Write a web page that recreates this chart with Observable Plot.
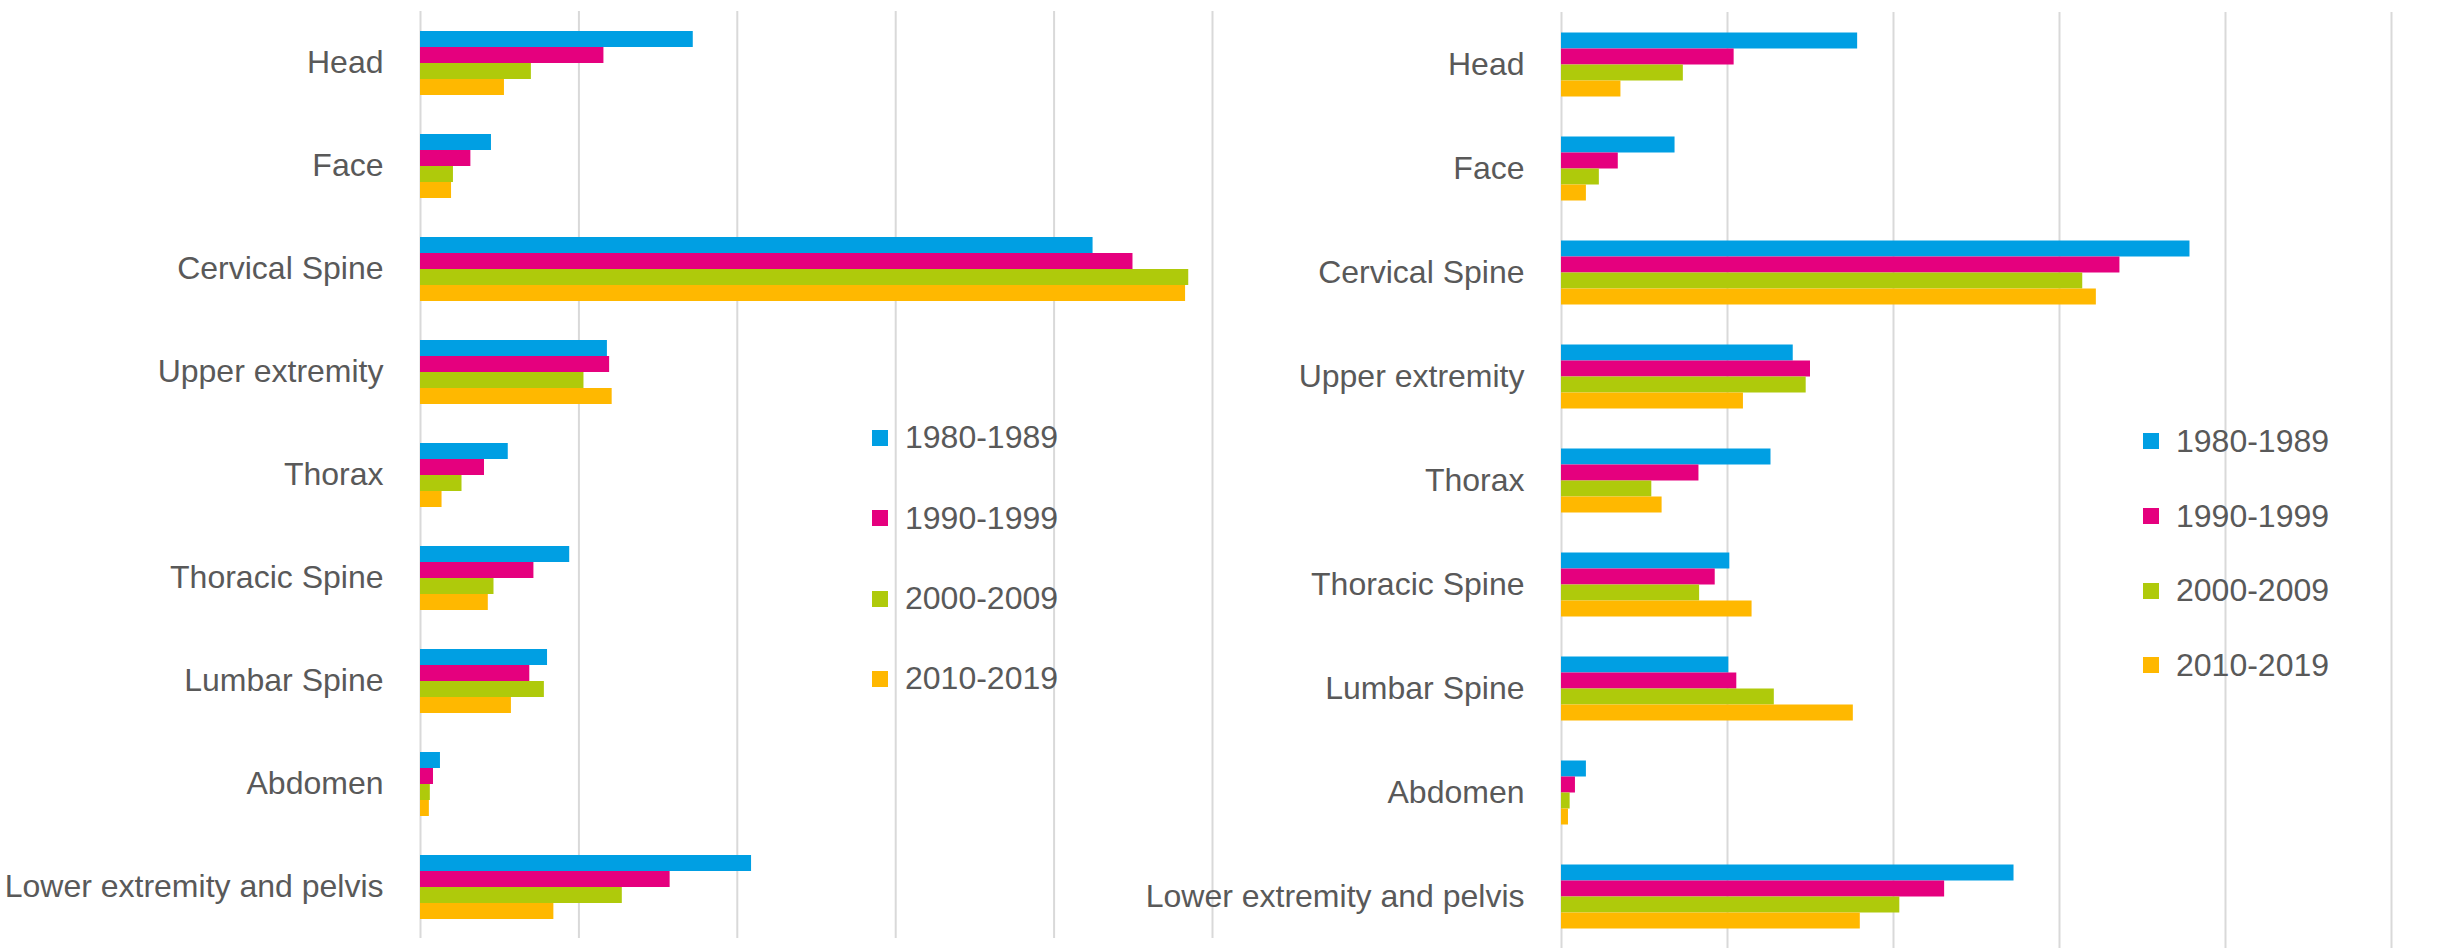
<!DOCTYPE html>
<html>
<head>
<meta charset="utf-8">
<script src="https://cdn.jsdelivr.net/npm/d3@7"></script>
<script src="https://cdn.jsdelivr.net/npm/@observablehq/plot@0.6"></script>
<style>
  html, body { margin: 0; padding: 0; background: #ffffff; }
  #root { position: relative; width: 2446px; height: 951px; overflow: hidden; background: #ffffff; }
  .panel { position: absolute; top: 0; }
  .legend { position: absolute; font-family: "Liberation Sans", Arial, sans-serif; font-size: 32px; color: #595959; }
  .legend .row { display: flex; align-items: center; }
  .legend .sw { display: inline-block; width: 16px; height: 16px; }
</style>
</head>
<body>
<div id="root"></div>
<script>
// Categories (top to bottom)
const categories = ["Head", "Face", "Cervical Spine", "Upper extremity", "Thorax", "Thoracic Spine", "Lumbar Spine", "Abdomen", "Lower extremity and pelvis"];
// Series (decades)
const series = ["1980-1989", "1990-1999", "2000-2009", "2010-2019"];
const colors = ["#009FE3", "#E5007E", "#AFCA0B", "#FFB800"];
// Gridline ticks
const xTicks = [0, 5, 10, 15, 20, 25];

// Left panel values, one array per series, in category order
const left1980 = [8.61, 2.24, 21.23, 5.90, 2.77, 4.71, 4.01, 0.63, 10.45];
const left1990 = [5.79, 1.59, 22.49, 5.97, 2.02, 3.58, 3.45, 0.41, 7.88];
const left2000 = [3.50, 1.04, 24.25, 5.16, 1.31, 2.32, 3.91, 0.31, 6.37];
const left2010 = [2.65, 0.98, 24.15, 6.05, 0.68, 2.14, 2.87, 0.28, 4.21];

// Right panel values
const right1980 = [8.92, 3.42, 18.93, 6.98, 6.31, 5.07, 5.04, 0.75, 13.63];
const right1990 = [5.20, 1.71, 16.82, 7.50, 4.14, 4.63, 5.28, 0.42, 11.54];
const right2000 = [3.67, 1.14, 15.70, 7.37, 2.72, 4.16, 6.41, 0.26, 10.19];
const right2010 = [1.79, 0.75, 16.11, 5.48, 3.03, 5.74, 8.79, 0.21, 9.00];

function toRows(arrays) {
  const rows = [];
  categories.forEach((c, i) => {
    series.forEach((s, j) => rows.push({category: c, series: s, value: arrays[j][i]}));
  });
  return rows;
}

function makePanel(rows, opts) {
  return Plot.plot({
    width: opts.width,
    height: 951,
    marginLeft: opts.marginLeft,
    marginRight: opts.marginRight,
    marginTop: opts.marginTop,
    marginBottom: opts.marginBottom,
    style: {
      fontSize: "32px",
      fontFamily: "'Liberation Sans', Arial, sans-serif",
      color: "#595959",
      background: "transparent",
      maxWidth: "none",
      overflow: "visible"
    },
    x: {domain: [0, 25], axis: null},
    y: {domain: series, axis: null, paddingInner: 0, paddingOuter: 1.09},
    fy: {domain: categories, padding: 0, axis: "left", label: null, tickSize: 0, tickPadding: 37},
    color: {domain: series, range: colors},
    marks: [
      Plot.ruleX(xTicks, {stroke: "#d9d9d9", strokeWidth: 2}),
      Plot.barX(rows, {x: "value", y: "series", fy: "category", fill: "series"})
    ]
  });
}

const root = document.getElementById("root");

const leftChart = makePanel(toRows([left1980, left1990, left2000, left2010]), {
  width: 1230, marginLeft: 420, marginRight: 18, marginTop: 11, marginBottom: 13
});
leftChart.classList.add("panel");
leftChart.style.left = "0px";
root.appendChild(leftChart);

const rightChart = makePanel(toRows([right1980, right1990, right2000, right2010]), {
  width: 1290, marginLeft: 431, marginRight: 29, marginTop: 11.5, marginBottom: 3
});
rightChart.classList.add("panel");
rightChart.style.left = "1130px";
root.appendChild(rightChart);

function makeLegend(left, top, rowH) {
  const div = document.createElement("div");
  div.className = "legend";
  div.style.left = left + "px";
  div.style.top = top + "px";
  series.forEach((s, i) => {
    const row = document.createElement("div");
    row.className = "row";
    row.style.height = rowH + "px";
    const sw = document.createElement("span");
    sw.className = "sw";
    sw.style.background = colors[i];
    const t = document.createElement("span");
    t.textContent = s;
    t.style.marginLeft = "17px";
    row.appendChild(sw);
    row.appendChild(t);
    div.appendChild(row);
  });
  root.appendChild(div);
}
makeLegend(872, 438 - 40.15, 80.3);
makeLegend(2143, 441.5 - 37.3, 74.6);
</script>
</body>
</html>
